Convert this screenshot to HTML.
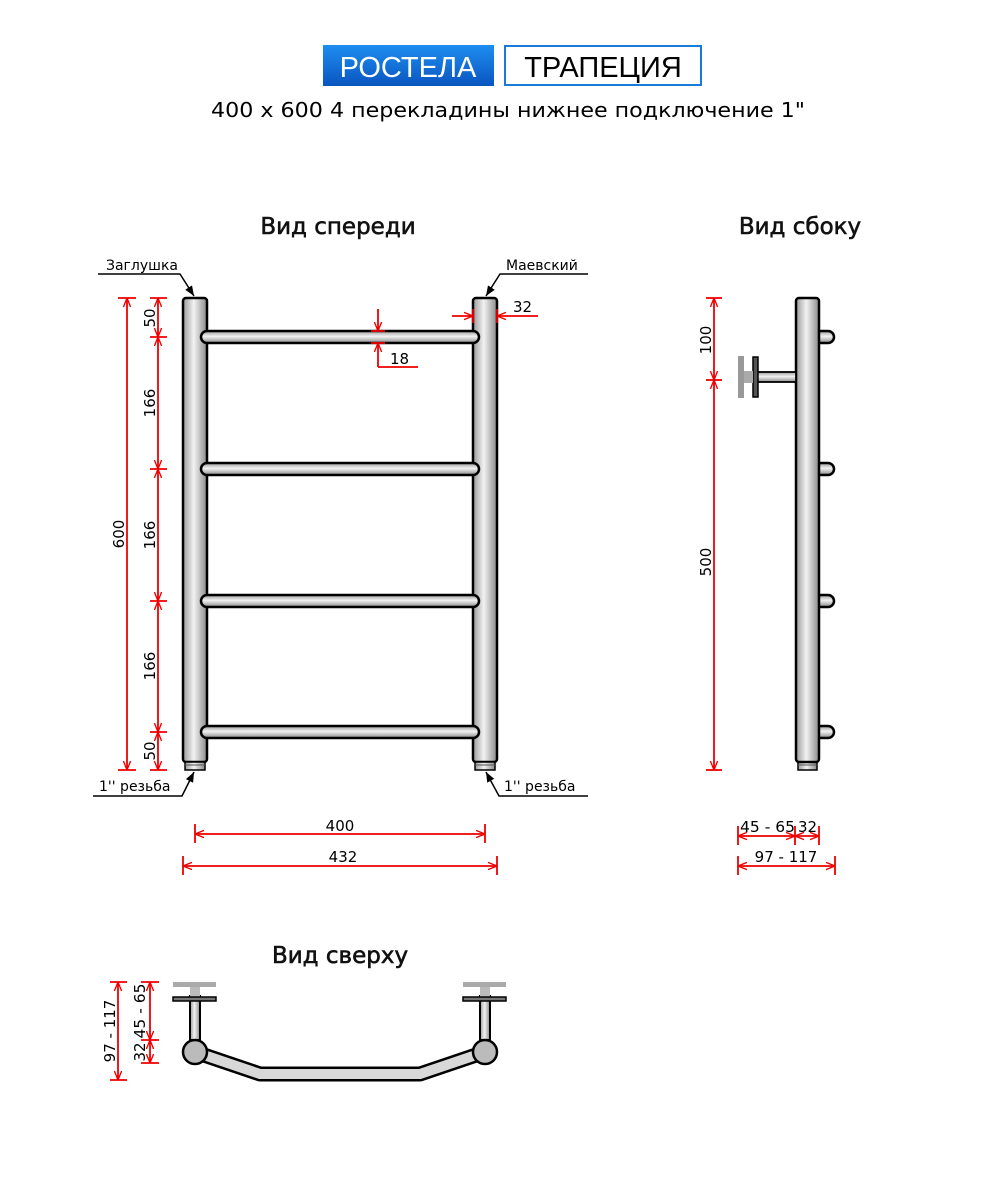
<!DOCTYPE html>
<html><head><meta charset="utf-8"><style>
html,body{margin:0;padding:0;background:#fff;}
svg{display:block;font-family:"DejaVu Sans","Liberation Sans",sans-serif;}
</style></head><body>
<svg width="996" height="1200" viewBox="0 0 996 1200" xmlns="http://www.w3.org/2000/svg">
<defs>
<linearGradient id="gv" x1="0" x2="1" y1="0" y2="0"><stop offset="0" stop-color="#9a9a9a"/><stop offset="0.45" stop-color="#f2f2f2"/><stop offset="1" stop-color="#8a8a8a"/></linearGradient>
<linearGradient id="gh" x1="0" x2="0" y1="0" y2="1"><stop offset="0" stop-color="#9a9a9a"/><stop offset="0.45" stop-color="#f2f2f2"/><stop offset="1" stop-color="#8a8a8a"/></linearGradient>
<linearGradient id="blue" x1="0" x2="0" y1="0" y2="1"><stop offset="0" stop-color="#1e8ef0"/><stop offset="1" stop-color="#0a55c0"/></linearGradient>
<marker id="a" viewBox="0 0 10 10" refX="10" refY="5" markerWidth="9" markerHeight="9" orient="auto-start-reverse" markerUnits="userSpaceOnUse"><path d="M0,1 L10,5 L0,9" fill="none" stroke="#e00" stroke-width="1.5"/></marker>
<marker id="k" viewBox="0 0 10 10" refX="10" refY="5" markerWidth="10" markerHeight="10" orient="auto" markerUnits="userSpaceOnUse"><path d="M0,1 L10,5 L0,9 z" fill="#000"/></marker>
</defs>

<rect x="323" y="45" width="171" height="41" fill="url(#blue)"/>
<text x="408" y="77" font-size="29" fill="#fff" text-anchor="middle" font-family="Liberation Sans, sans-serif">РОСТЕЛА</text>
<rect x="505" y="46" width="196" height="39" fill="#fff" stroke="#1a7ad8" stroke-width="2"/>
<text x="603" y="77" font-size="29" fill="#000" text-anchor="middle" font-family="Liberation Sans, sans-serif">ТРАПЕЦИЯ</text>
<text x="508" y="117" font-size="20" text-anchor="middle" textLength="594" lengthAdjust="spacingAndGlyphs">400 x 600 4 перекладины нижнее подключение 1"</text>

<text x="338" y="234" font-size="23" text-anchor="middle" fill="#111" stroke="#111" stroke-width="0.6">Вид спереди</text>
<text x="800" y="234" font-size="23" text-anchor="middle" fill="#111" stroke="#111" stroke-width="0.6">Вид сбоку</text>
<text x="340" y="963" font-size="23" text-anchor="middle" fill="#111" stroke="#111" stroke-width="0.6">Вид сверху</text>

<g stroke="#000" stroke-width="2.5">
<rect x="183" y="298" width="24" height="464" rx="3" fill="url(#gv)"/>
<rect x="473" y="298" width="24" height="464" rx="3" fill="url(#gv)"/>
<rect x="201" y="331" width="278" height="12" rx="6" fill="url(#gh)"/>
<rect x="201" y="463" width="278" height="12" rx="6" fill="url(#gh)"/>
<rect x="201" y="595" width="278" height="12" rx="6" fill="url(#gh)"/>
<rect x="201" y="726" width="278" height="12" rx="6" fill="url(#gh)"/>
</g>
<g stroke="#000" stroke-width="1.5" fill="url(#gv)">
<rect x="185" y="762" width="20" height="8"/><rect x="475" y="762" width="20" height="8"/>
<rect x="798" y="762" width="19" height="8"/>
</g>
<g stroke="#555" stroke-width="1"><line x1="185" y1="765" x2="205" y2="765"/><line x1="475" y1="765" x2="495" y2="765"/><line x1="798" y1="765" x2="817" y2="765"/></g>

<g font-size="14" fill="#000">
<text x="106" y="270">Заглушка</text>
<text x="506" y="270">Маевский</text>
<text x="99" y="791">1'' резьба</text>
<text x="504" y="791">1'' резьба</text>
</g>
<g stroke="#000" stroke-width="1.5" fill="none">
<polyline points="98,274 180,274 194,296" marker-end="url(#k)"/>
<polyline points="588,274 500,274 486,296" marker-end="url(#k)"/>
<polyline points="93,796 182,796 194,772" marker-end="url(#k)"/>
<polyline points="588,796 499,796 486,772" marker-end="url(#k)"/>
</g>

<g stroke="#e00" stroke-width="1.8" fill="none">
<line x1="127" y1="298" x2="127" y2="770" marker-start="url(#a)" marker-end="url(#a)"/>
<line x1="118" y1="298" x2="136" y2="298"/><line x1="118" y1="770" x2="136" y2="770"/>
<line x1="158" y1="298" x2="158" y2="337" marker-start="url(#a)" marker-end="url(#a)"/>
<line x1="158" y1="337" x2="158" y2="469" marker-start="url(#a)" marker-end="url(#a)"/>
<line x1="158" y1="469" x2="158" y2="601" marker-start="url(#a)" marker-end="url(#a)"/>
<line x1="158" y1="601" x2="158" y2="732" marker-start="url(#a)" marker-end="url(#a)"/>
<line x1="158" y1="732" x2="158" y2="770" marker-start="url(#a)" marker-end="url(#a)"/>
<line x1="150" y1="298" x2="167" y2="298"/><line x1="150" y1="337" x2="167" y2="337"/><line x1="150" y1="469" x2="167" y2="469"/><line x1="150" y1="601" x2="167" y2="601"/><line x1="150" y1="732" x2="167" y2="732"/><line x1="150" y1="770" x2="167" y2="770"/>
<line x1="195" y1="834" x2="485" y2="834" marker-start="url(#a)" marker-end="url(#a)"/>
<line x1="195" y1="824" x2="195" y2="843"/><line x1="485" y1="824" x2="485" y2="843"/>
<line x1="183" y1="866" x2="497" y2="866" marker-start="url(#a)" marker-end="url(#a)"/>
<line x1="183" y1="856" x2="183" y2="875"/><line x1="497" y1="856" x2="497" y2="875"/>
<line x1="452" y1="316" x2="473" y2="316" marker-end="url(#a)"/>
<line x1="538" y1="316" x2="497" y2="316" marker-end="url(#a)"/>
<line x1="473" y1="309" x2="473" y2="323"/><line x1="497" y1="309" x2="497" y2="323"/>
<line x1="378" y1="309" x2="378" y2="331" marker-end="url(#a)"/>
<line x1="378" y1="367" x2="378" y2="343" marker-end="url(#a)"/>
<line x1="371" y1="331" x2="385" y2="331"/><line x1="371" y1="343" x2="385" y2="343"/>
<line x1="378" y1="367" x2="418" y2="367"/>
</g>
<g font-size="15" fill="#000">
<text x="390" y="364">18</text>
<text x="513" y="312">32</text>
<text x="340" y="831" text-anchor="middle">400</text>
<text x="343" y="862" text-anchor="middle">432</text>
<text transform="translate(124,534) rotate(-90)" text-anchor="middle">600</text>
<text transform="translate(155,318) rotate(-90)" text-anchor="middle">50</text>
<text transform="translate(155,403) rotate(-90)" text-anchor="middle">166</text>
<text transform="translate(155,535) rotate(-90)" text-anchor="middle">166</text>
<text transform="translate(155,666) rotate(-90)" text-anchor="middle">166</text>
<text transform="translate(155,751) rotate(-90)" text-anchor="middle">50</text>
</g>

<g stroke="#000" stroke-width="2.5">
<rect x="815" y="331" width="19" height="12" rx="6" fill="url(#gh)"/>
<rect x="815" y="463" width="19" height="12" rx="6" fill="url(#gh)"/>
<rect x="815" y="595" width="19" height="12" rx="6" fill="url(#gh)"/>
<rect x="815" y="726" width="19" height="12" rx="6" fill="url(#gh)"/>
<rect x="796" y="298" width="23" height="464" rx="3" fill="url(#gv)"/>
<rect x="757" y="372" width="39" height="10" fill="url(#gh)" stroke-width="1.8"/>
<rect x="753" y="357" width="5" height="40" fill="#555" stroke-width="1.5"/>
</g>
<rect x="744" y="371" width="9" height="12" fill="#aaa"/>
<rect x="738" y="356" width="6" height="42" fill="#999"/>
<g stroke="#e00" stroke-width="1.8" fill="none">
<line x1="714" y1="298" x2="714" y2="380" marker-start="url(#a)" marker-end="url(#a)"/>
<line x1="714" y1="380" x2="714" y2="770" marker-start="url(#a)" marker-end="url(#a)"/>
<line x1="706" y1="298" x2="722" y2="298"/><line x1="706" y1="380" x2="722" y2="380"/><line x1="706" y1="770" x2="722" y2="770"/>
<line x1="738" y1="836" x2="795" y2="836" marker-start="url(#a)" marker-end="url(#a)"/>
<line x1="795" y1="836" x2="819" y2="836" marker-start="url(#a)" marker-end="url(#a)"/>
<line x1="738" y1="826" x2="738" y2="845"/><line x1="795" y1="826" x2="795" y2="845"/><line x1="819" y1="826" x2="819" y2="845"/>
<line x1="738" y1="866" x2="835" y2="866" marker-start="url(#a)" marker-end="url(#a)"/>
<line x1="738" y1="856" x2="738" y2="875"/><line x1="835" y1="856" x2="835" y2="875"/>
</g>
<g font-size="15" fill="#000">
<text transform="translate(711,340) rotate(-90)" text-anchor="middle">100</text>
<text transform="translate(711,562) rotate(-90)" text-anchor="middle">500</text>
<text x="740" y="832" textLength="55" lengthAdjust="spacingAndGlyphs">45 - 65</text><text x="798" y="832">32</text>
<text x="786" y="862" text-anchor="middle">97 - 117</text>
</g>

<g stroke="#000" stroke-width="2">
<polyline points="195,1052 260,1074 420,1074 485,1052" fill="none" stroke="#000" stroke-width="15" stroke-linejoin="round"/>
<polyline points="195,1052 260,1074 420,1074 485,1052" fill="none" stroke="#d8d8d8" stroke-width="10" stroke-linejoin="round"/>
<rect x="190" y="996" width="10" height="44" fill="url(#gv)"/>
<rect x="480" y="996" width="10" height="44" fill="url(#gv)"/>
</g>
<g stroke="none">
<rect x="173" y="982" width="43" height="5" fill="#aaa"/><rect x="190" y="987" width="10" height="10" fill="#bbb"/>
<rect x="463" y="982" width="43" height="5" fill="#aaa"/><rect x="480" y="987" width="10" height="10" fill="#bbb"/>
</g>
<g stroke="#000" stroke-width="1.5">
<rect x="173" y="997" width="43" height="4" fill="#777"/>
<rect x="463" y="997" width="43" height="4" fill="#777"/>
<circle cx="195" cy="1052" r="12" fill="#bbb" stroke-width="2.5"/>
<circle cx="485" cy="1052" r="12" fill="#bbb" stroke-width="2.5"/>
</g>
<g stroke="#e00" stroke-width="1.8" fill="none">
<line x1="118" y1="982" x2="118" y2="1080" marker-start="url(#a)" marker-end="url(#a)"/>
<line x1="110" y1="982" x2="127" y2="982"/><line x1="110" y1="1080" x2="127" y2="1080"/>
<line x1="150" y1="982" x2="150" y2="1040" marker-start="url(#a)" marker-end="url(#a)"/>
<line x1="150" y1="1040" x2="150" y2="1063" marker-start="url(#a)" marker-end="url(#a)"/>
<line x1="141" y1="982" x2="159" y2="982"/><line x1="141" y1="1040" x2="159" y2="1040"/><line x1="141" y1="1063" x2="159" y2="1063"/>
</g>
<g font-size="15" fill="#000">
<text transform="translate(115,1031) rotate(-90)" text-anchor="middle">97 - 117</text>
<text transform="translate(145,1011) rotate(-90)" text-anchor="middle" textLength="55" lengthAdjust="spacingAndGlyphs">45 - 65</text>
<text transform="translate(145,1052) rotate(-90)" text-anchor="middle">32</text>
</g>
</svg>
</body></html>
